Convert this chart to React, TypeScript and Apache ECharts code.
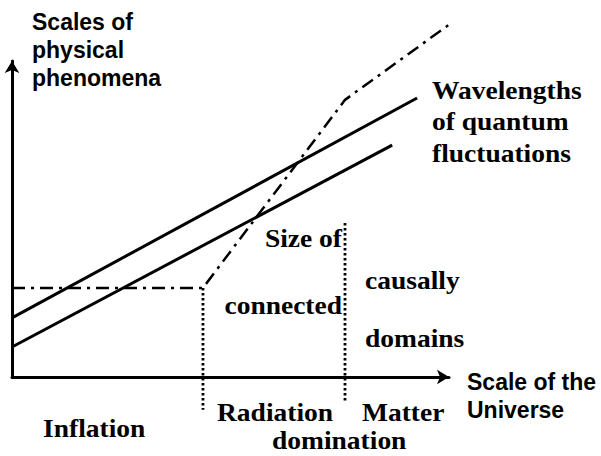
import React, { useEffect, useRef } from "react";
import * as echarts from "echarts";

// Schematic values (arbitrary log-scale units: x = scale of the Universe, y = physical scale)
const quantumUpper: [number, number][] = [[0, 18.7], [92.7, 88.3]];
const quantumLower: [number, number][] = [[0, 9.5], [87.0, 73.4]];
const horizon: [number, number][] = [[0, 28.2], [43.7, 28.2], [76.2, 87.7], [103.4, 114.9]];
const radiationStart: [number, number][] = [[43.7, 28.2], [43.7, -10.4]];
const matterStart: [number, number][] = [[76.2, 48.7], [76.2, -8.2]];

const yAxisTitle = ["Scales of", "physical", "phenomena"];
const xAxisTitle = ["Scale of the", "Universe"];
const quantumLabel = ["Wavelengths", "of quantum", "fluctuations"];
const horizonLabel = ["Size of", "causally", "connected", "domains"];
const eraLabels = ["Inflation", "Radiation", "domination", "Matter"];

const SANS = 'bold 23px "Liberation Sans", Arial, sans-serif';
const SERIF = 'bold 25px "Liberation Serif", "Times New Roman", serif';

function sansText(text: string, x: number, y: number) {
  return {
    type: "text",
    x,
    y,
    silent: true,
    style: { text, font: SANS, fill: "#000", textAlign: "left", textVerticalAlign: "middle" },
  };
}

function serifText(text: string, x: number, y: number, align: string = "left") {
  return {
    type: "text",
    x,
    y,
    scaleX: 1.1,
    silent: true,
    style: { text, font: SERIF, fill: "#000", textAlign: align, textVerticalAlign: "middle" },
  };
}

export default function App() {
  const ref = useRef<HTMLDivElement>(null);

  useEffect(() => {
    if (!ref.current) return;
    const chart = echarts.init(ref.current, undefined, { renderer: "svg" });

    const axisCommon = {
      type: "value",
      min: 0,
      max: 100,
      axisLine: {
        show: true,
        onZero: false,
        symbol: ["none", "arrow"],
        symbolSize: [11, 12],
        lineStyle: { color: "#000", width: 3 },
      },
      axisTick: { show: false },
      axisLabel: { show: false },
      splitLine: { show: false },
    };

    const lineSeries = (name: string, data: [number, number][], type: any, width: number) => ({
      name,
      type: "line",
      data,
      symbol: "none",
      clip: false,
      silent: true,
      lineStyle: { color: "#000", width, type },
    });

    chart.setOption({
      animation: false,
      backgroundColor: "#fff",
      grid: { left: 12, right: 152, top: 61, bottom: 79 },
      xAxis: axisCommon,
      yAxis: axisCommon,
      series: [
        lineSeries("quantumUpper", quantumUpper, "solid", 3),
        lineSeries("quantumLower", quantumLower, "solid", 3),
        lineSeries("horizon", horizon, [13, 6, 3, 6], 2.5),
        lineSeries("radiationStart", radiationStart, [2.5, 2.5], 2.8),
        lineSeries("matterStart", matterStart, [2.5, 2.5], 2.8),
      ],
      graphic: [
        sansText(yAxisTitle[0], 32, 22),
        sansText(yAxisTitle[1], 32, 50),
        sansText(yAxisTitle[2], 32, 78),
        sansText(xAxisTitle[0], 467, 382),
        sansText(xAxisTitle[1], 467, 410),
        serifText(quantumLabel[0], 432, 91),
        serifText(quantumLabel[1], 432, 122),
        serifText(quantumLabel[2], 432, 154),
        serifText(horizonLabel[0], 342, 239, "right"),
        serifText(horizonLabel[1], 365, 281),
        serifText(horizonLabel[2], 342, 306, "right"),
        serifText(horizonLabel[3], 365, 339),
        serifText(eraLabels[0], 43, 429),
        serifText(eraLabels[1], 217, 413),
        serifText(eraLabels[2], 272, 441),
        serifText(eraLabels[3], 362, 413),
      ],
    });

    return () => chart.dispose();
  }, []);

  return (
    <div
      ref={ref}
      style={{ position: "absolute", left: 0, top: 0, width: 601, height: 456 }}
    />
  );
}
